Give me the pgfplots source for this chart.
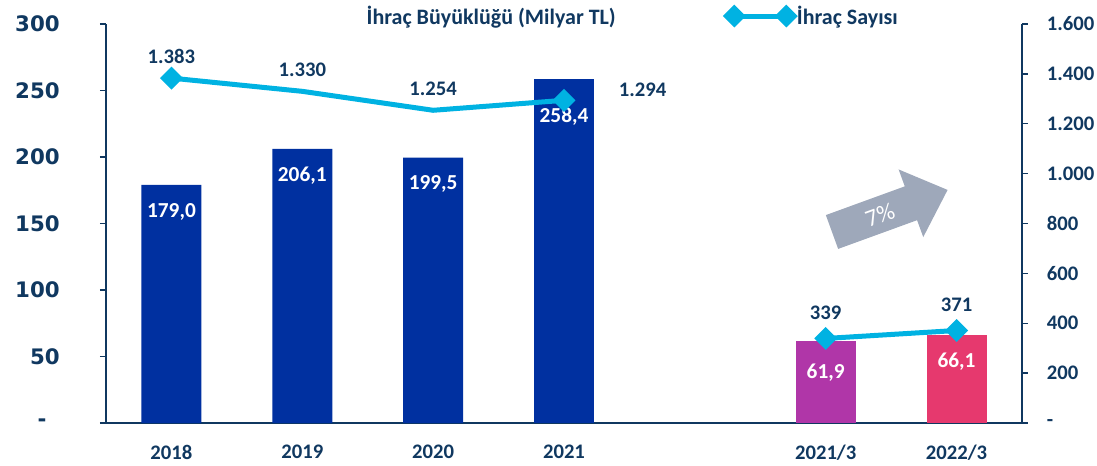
\documentclass[border=0pt]{standalone}
\usepackage{pgfplots}
\pgfplotsset{compat=1.18}
\usepackage{fontspec}
\setmainfont{Carlito}
\newfontfamily\verdana{DejaVu Sans}

\definecolor{navy}{RGB}{16,56,96}
\definecolor{barblue}{RGB}{0,48,160}
\definecolor{barpurple}{RGB}{176,54,168}
\definecolor{barpink}{RGB}{230,57,110}
\definecolor{linecyan}{RGB}{0,178,226}
\definecolor{arrowgray}{RGB}{158,168,186}

\pgfplotsset{
  /pgf/number format/assume math mode=true,
  common/.style={
    scale only axis,
    width=687pt, height=299.25pt,
    at={(79.5pt,31.5pt)}, anchor=south west,
    xmin=-0.5, xmax=6.5,
    axis line style={navy, line width=1pt, -},
    tick style={navy, line width=1pt},
    tick align=outside,
    major tick length=4.5pt,
  },
}

\begin{document}
\begin{tikzpicture}
\useasboundingbox (0,0) rectangle (822.75pt,348.75pt);

% bars, left axis
\begin{axis}[common,
  ymin=0, ymax=300,
  axis x line*=bottom, axis y line*=left,
  xtick={0,1,2,3,5,6},
  xticklabels={2018,2019,2020,2021,2021/3,2022/3},
  major x tick style={draw=none},
  xticklabel style={font=\bfseries\fontsize{15.5}{15.5}\selectfont, text=navy, inner sep=0pt, anchor=north, yshift=-12pt},
  ytick={0,50,...,300},
  yticklabels={{-\hspace*{10pt}},50,100,150,200,250,300},
  yticklabel style={font=\verdana\bfseries\fontsize{16}{16}\selectfont, text=navy, inner sep=0pt, anchor=east, xshift=-30pt},
  ybar, bar width=45pt,
  nodes near coords={\pgfmathprintnumber[fixed,fixed zerofill,precision=1,use comma]{\pgfplotspointmeta}},
  every node near coord/.append style={font=\bfseries\fontsize{16}{16}\selectfont, text=white, anchor=center},
]
\addplot[fill=barblue, draw=none, bar shift=0pt, every node near coord/.append style={yshift=-20pt}]
  coordinates {(0,179.0) (1,206.1) (2,199.5)};
\addplot[fill=barblue, draw=none, bar shift=0pt, every node near coord/.append style={yshift=-28pt}]
  coordinates {(3,258.4)};
\addplot[fill=barpurple, draw=none, bar shift=0pt, every node near coord/.append style={yshift=-24pt}]
  coordinates {(5,61.9)};
\addplot[fill=barpink, draw=none, bar shift=0pt, every node near coord/.append style={yshift=-20pt}]
  coordinates {(6,66.1)};
\end{axis}

% line, right axis
\begin{axis}[common,
  ymin=0, ymax=1600,
  axis x line=none, axis y line*=right,
  ytick={0,200,...,1600},
  yticklabels={-,200,400,600,800,{1.000},{1.200},{1.400},{1.600}},
  yticklabel style={font=\bfseries\fontsize{15.5}{15.5}\selectfont, text=navy, inner sep=0pt, anchor=west, xshift=14pt},
  legend columns=2,
  legend style={draw=none, fill=none, at={(0.277,1.02)}, anchor=west,
    font=\bfseries\fontsize{16.5}{16.5}\selectfont, text=navy,
    /tikz/every even column/.append style={column sep=81pt}},
  legend image code/.code={\draw[#1] plot coordinates {(0pt,0pt) (39pt,0pt)};},
]
\addlegendimage{empty legend}
\addlegendentry{İhraç Büyüklüğü (Milyar TL)}
\addplot[linecyan, line width=3.75pt, mark=square*, mark size=4.2pt,
  mark options={rotate=45, fill=linecyan, draw=none}, mark indices={1,4}, forget plot]
  coordinates {(0,1383) (1,1330) (2,1254) (3,1294)};
\addplot[linecyan, line width=3.75pt, mark=square*, mark size=4.2pt,
  mark options={rotate=45, fill=linecyan, draw=none}]
  coordinates {(5,339) (6,371)};
\addlegendentry{İhraç Sayısı}
% data labels of the line
\pgfplotsset{linelabel/.style={draw=none, mark=none, forget plot,
  nodes near coords={\pgfmathprintnumber[fixed,precision=0,1000 sep={.}]{\pgfplotspointmeta}},
  every node near coord/.append style={font=\bfseries\fontsize{15.5}{15.5}\selectfont, text=navy, anchor=center}}}
\addplot[linelabel, every node near coord/.append style={yshift=16pt}] coordinates {(0,1383) (1,1330) (2,1254)};
\addplot[linelabel, every node near coord/.append style={xshift=59pt, yshift=8pt}] coordinates {(3,1294)};
\addplot[linelabel, every node near coord/.append style={yshift=19pt}] coordinates {(5,339) (6,371)};
\end{axis}

% growth arrow
\begin{scope}[shift={(624pt,174.75pt)}, rotate=20, x=0.75pt, y=0.75pt]
\fill[arrowgray] (0,-18) -- (84,-18) -- (84,-36) -- (123,0) -- (84,36) -- (84,18) -- (0,18) -- cycle;
\node[text=white, rotate=20, font=\fontsize{18}{18}\selectfont] at (51,0) {7\%};
\end{scope}
\end{tikzpicture}
\end{document}
